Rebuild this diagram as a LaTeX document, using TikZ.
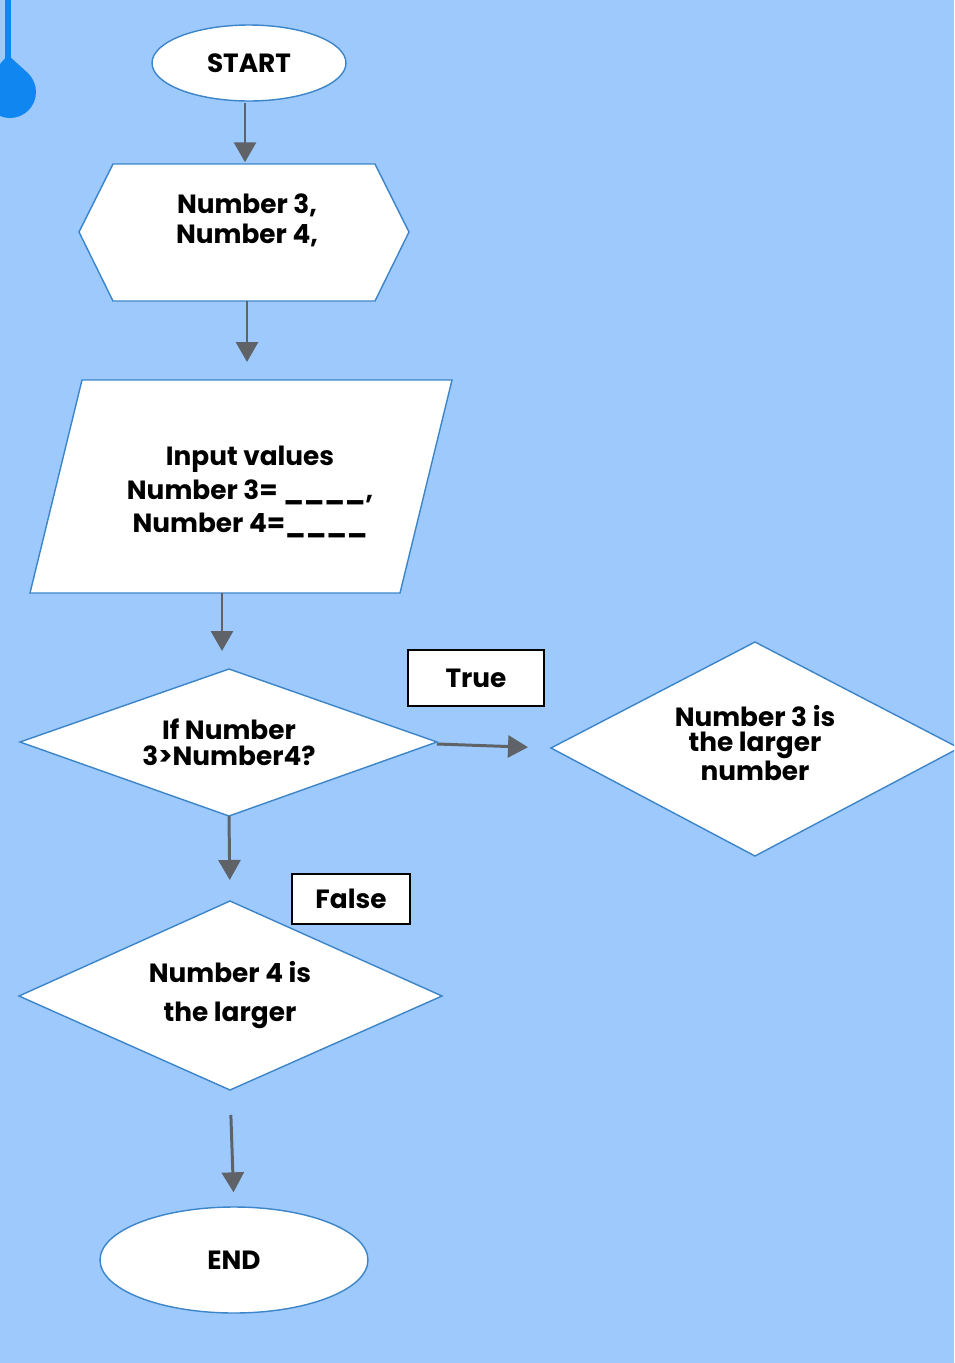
\documentclass[tikz,border=0pt]{standalone}
\usepackage{fontspec}
\setmainfont{Poppins}
\usetikzlibrary{shapes.geometric,arrows.meta}
\definecolor{bgblue}{RGB}{157,201,252}
\definecolor{edgeblue}{RGB}{60,133,201}
\definecolor{dropblue}{RGB}{16,134,240}
\definecolor{flowgray}{RGB}{95,99,104}

\begin{document}
\begin{tikzpicture}[x=0.02cm,y=-0.02cm,
    shapeline/.style={draw=edgeblue,fill=white,line width=0.8pt},
    box/.style={shapeline,inner sep=0pt,align=center,
      font=\bfseries\fontsize{15}{17}\selectfont},
    txt/.style={inner sep=0pt,align=center,
      font=\bfseries\fontsize{15}{17}\selectfont},
    tag/.style={draw=black,fill=white,line width=1.1pt,inner sep=0pt,
      font=\bfseries\fontsize{15}{17}\selectfont},
    flow/.style={draw=flowgray,line width=1.7pt,
      -{Triangle[length=0.4cm,width=0.44cm]}}]
  \fill[bgblue] (0,0) rectangle (954,1363);
  \clip (0,0) rectangle (954,1363);
  % drop in the corner
  \draw[dropblue,line width=0.12cm] (8,0)--(8,60);
  \fill[dropblue] (8,55)--(28.5,73.7)--(-8.5,73.7)--cycle;
  \fill[dropblue] (10,92) circle [radius=26];

  % outlines
  \filldraw[shapeline] (79,232)--(113,164)--(375,164)--(409,232)--(375,301)--(113,301)--cycle;
  \filldraw[shapeline] (82,380)--(452,380)--(400,593)--(30,593)--cycle;
  \filldraw[shapeline] (20,742)--(229,669)--(437,742)--(229,816)--cycle;
  \filldraw[shapeline] (551,748)--(755,642)--(959,748)--(755,856)--cycle;
  \filldraw[shapeline] (19,996)--(230,901)--(442,996)--(230,1090)--cycle;
  \coordinate (vars-n) at (245,164);
  \coordinate (vars-s) at (247,301);
  \coordinate (input-n) at (246,380);
  \coordinate (input-s) at (222,593);
  \coordinate (ask-n) at (229,669);
  \coordinate (ask-e) at (437,744);
  \coordinate (ask-s) at (229,816);
  \coordinate (yes-w) at (551,748);
  \coordinate (no-n) at (230,901);
  \coordinate (no-s) at (230,1090);

  \node[box,ellipse,minimum width=3.88cm,minimum height=1.52cm] (start) at (249,63) {START};
  \node[txt] (vars) at (247,220) {Number 3,\\Number 4,};
  \node[txt,font=\bfseries\fontsize{15}{19.3}\selectfont]
    (input) at (250,492) {Input values\\Number 3= \_\_\_\_,\\Number 4=\_\_\_\_};
  \node[txt,font=\bfseries\fontsize{15}{14.7}\selectfont]
    (ask) at (229,742) {If Number\\3>Number4?};
  \node[txt,font=\bfseries\fontsize{15}{14.2}\selectfont]
    (yes) at (755,743) {Number 3 is\\the larger\\number};
  \node[txt,font=\bfseries\fontsize{15}{22}\selectfont]
    (no) at (230,995) {Number 4 is\\the larger};
  \node[box,ellipse,minimum width=5.36cm,minimum height=2.12cm] (stop) at (234,1260) {END};

  \node[tag,minimum width=2.72cm,minimum height=1.12cm] (true) at (476,678) {True};
  \node[tag,minimum width=2.36cm,minimum height=1.0cm] (false) at (351,899) {False};

  \draw[flow,shorten <=1pt,shorten >=1pt] (start.south -| vars-n) -- (vars-n);
  \draw[flow,shorten >=0.36cm] (vars-s) -- (vars-s |- input-n);
  \draw[flow,shorten >=0.36cm] (input-s) -- (input-s |- ask-n);
  \draw[flow,shorten >=0.46cm] (ask-e) -- (yes-w);
  \draw[flow,shorten >=0.42cm] (ask-s) -- (no-n);
  \draw[flow,shorten <=0.5cm,shorten >=0.28cm] (no-s) -- (stop.north);
\end{tikzpicture}
\end{document}
